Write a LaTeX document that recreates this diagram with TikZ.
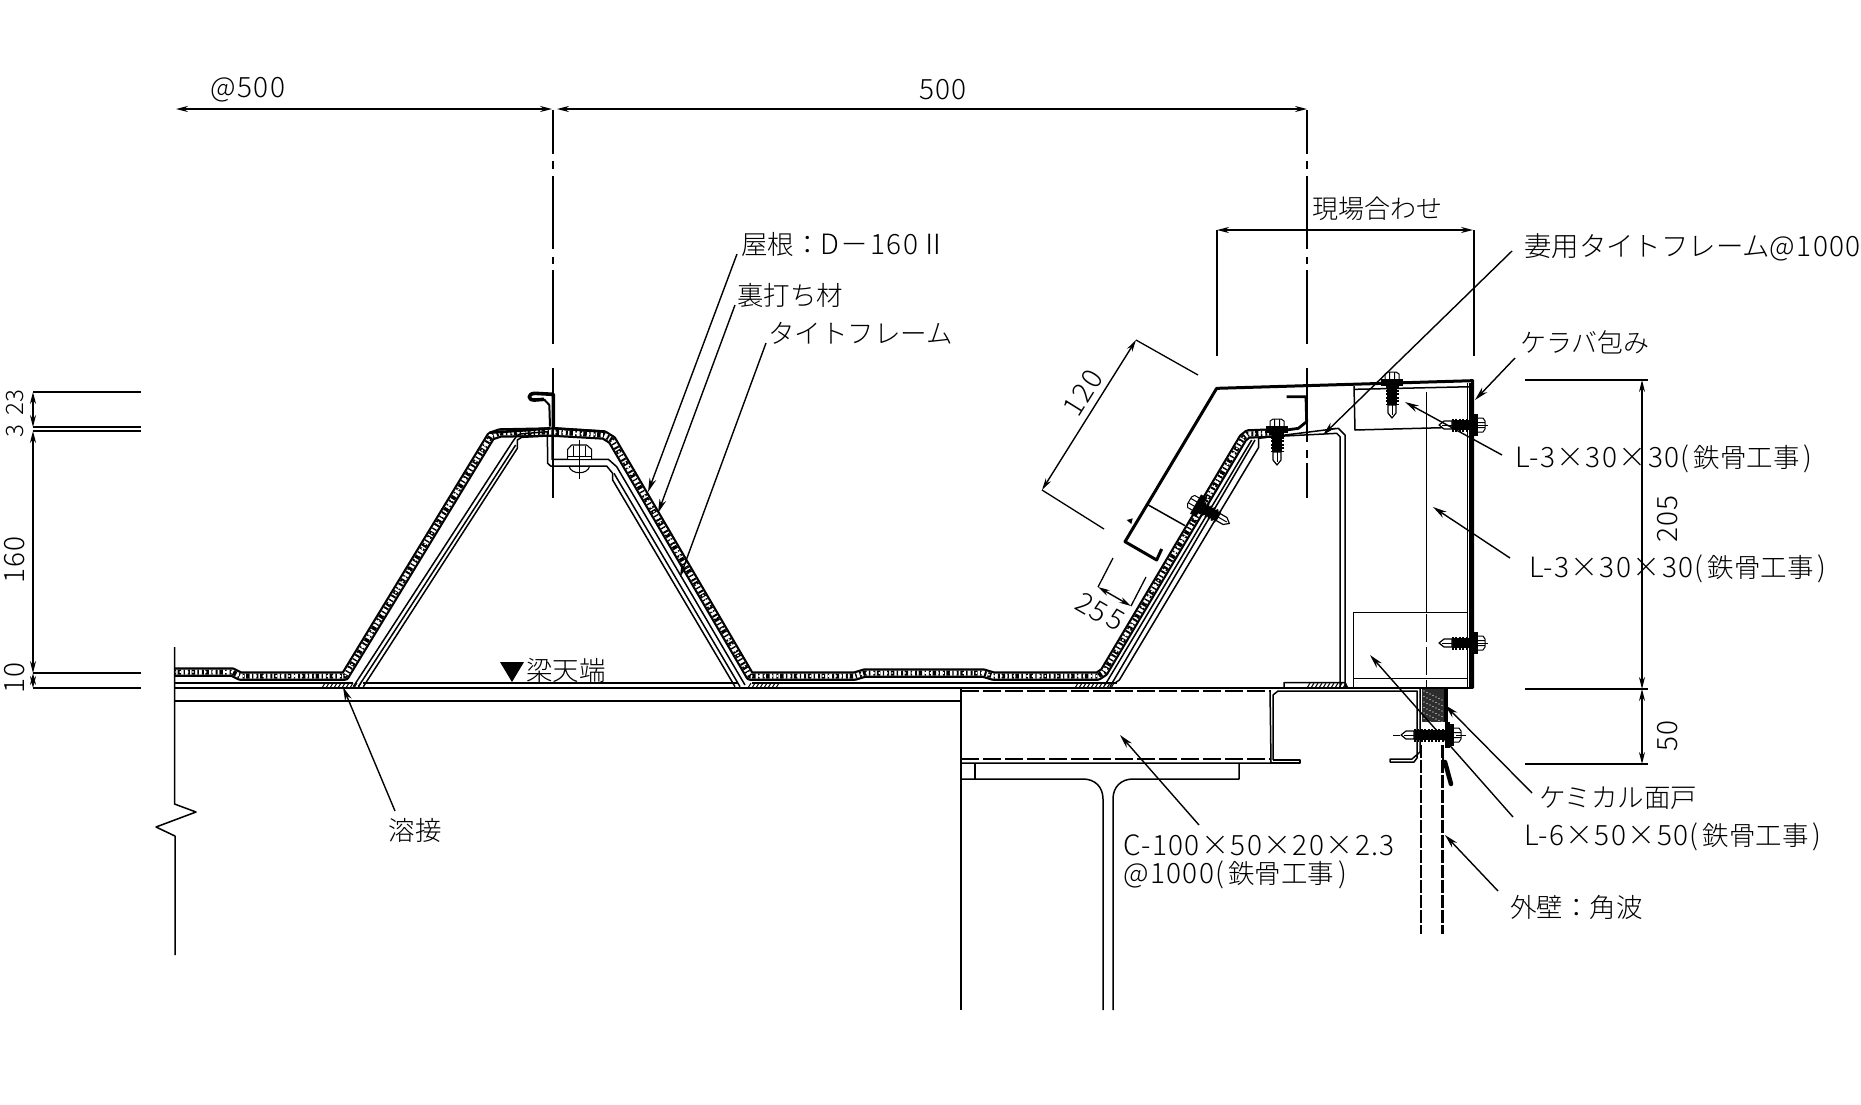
\documentclass[tikz,border=0pt]{standalone}
\usepackage{fontspec}
\setmainfont{Noto Sans CJK JP Light}
\newfontfamily\latf{Noto Sans CJK JP Light}[LetterSpace=5]
\newcommand{\lt}[1]{{\latf\fontsize{28}{30}\selectfont #1}}
\newcommand{\steelwork}{\lt{(}\kern4pt 鉄骨工事\kern4pt\lt{)}}
\usetikzlibrary{arrows.meta}
\tikzset{
  z1/.style={shift={(320,360)},x=0.33333pt,y=-0.33333pt},
  z2/.style={shift={(1060,360)},x=0.33333pt,y=-0.33333pt},
  thinl/.style={line width=1.3pt},
  med/.style={line width=1.5pt},
  heavy/.style={line width=3pt},
  dim/.style={line width=1.4pt,{Stealth[length=12pt,width=6pt]}-{Stealth[length=12pt,width=6pt]}},
  lead/.style={line width=1.4pt,-{Stealth[length=14pt,width=7pt]}},
  lbl/.style={inner sep=0pt,anchor=west,font=\fontsize{26.5}{30}\selectfont},
  num/.style={inner sep=0pt,font=\latf\fontsize{28}{30}\selectfont},
}
\newcommand{\screwat}[4]{\begin{scope}[shift={(#1,#2)},rotate=#3]
  \fill[white] (-7,-11) rectangle (7,-3);
  \draw[line width=1pt] (-7,-3)--(-7,-9)--(-4,-11)--(4,-11)--(7,-9)--(7,-3) (-2.5,-11)--(-2.5,-3) (2.5,-11)--(2.5,-3);
  \fill (-11,-4) rectangle (11,3);
  \fill (-5,3) rectangle (5,#4);
  \draw[line width=13pt,dash pattern=on 2pt off 1.5pt] (0,3)--(0,#4);
  \filldraw[fill=white,line width=1.2pt] (-4,#4)--(-4,#4+8)--(0,#4+13)--(4,#4+8)--(4,#4)--cycle;
  \draw[line width=1pt] (0,#4)--(0,#4+10);
\end{scope}}
\newcommand{\bandpath}{(174,672)--(232,672)--(240,676)--(345,676)--(491,436)--(500,433)--(551,432)--(604,435)--(612,440)--(750,676)--(855,676)--(865,673)--(983,673)--(993,676)--(1098,676)--(1104,672)--(1243,438)--(1248,434)--(1272,433)}
\begin{document}
\begin{tikzpicture}[x=1pt,y=-1pt,line join=round]
\useasboundingbox (0,0) rectangle (1861,1104);
\fill[white] (0,0) rectangle (1861,1104);
% insulation band
\draw[line width=9.5pt] \bandpath;
\draw[line width=5pt,white] \bandpath;
\draw[line width=5pt,dash pattern=on 2pt off 1.6pt on 3.5pt off 2.4pt on 1.4pt off 3pt] \bandpath;
\draw[line width=1.6pt,white,dash pattern=on 1.6pt off 4pt on 1.2pt off 6pt] \bandpath;
% beam and base
\coordinate (bL) at (174,688);
\draw[line width=2pt] (bL)--(1473,688);
\draw[med] (174,701)--(961,701);
\draw[med] (174,683)--(353,683) (363,683)--(738,683) (752,683)--(1117,683);
\draw[med] (174.5,647)--(174.5,804)--(196,812)--(156,827)--(175,836)--(175,955);
% welds
\foreach \x in {322,326,...,358} \draw[line width=1pt] (\x,688)--(\x+3,683);
\foreach \x in {748,752,...,776} \draw[line width=1pt] (\x,688)--(\x+3,683);
\foreach \x in {1075,1079,...,1111} \draw[line width=1pt] (\x,688)--(\x+3,683);
\foreach \x in {1307,1311,...,1343} \draw[line width=1pt] (\x,688)--(\x+3,683);
% left rib frame
\begin{scope}[z1]
\draw[med] (100,980)--(578,245)--(590,228)--(600,222)--(682,215)--(683,310)--(692,318)--(860,318)--(878,340)--(878,360)--(1245,980);
\draw[med] (115,980)--(587,255);
\draw[med] (130,980)--(592,265)--(592,240)--(605,232)--(682,228);
\draw[med] (696,210)--(696,298)--(865,298)--(890,320)--(1275,975);
\draw[med] (882,340)--(1260,980);
% seam
\draw[line width=3.6pt] (700,205)--(700,103)--(645,100) .. controls (622,100) and (622,122) .. (645,120)--(672,118);
\draw[line width=2pt] (672,118)--(688,135)--(690,200);
\draw[line width=2.6pt] (510,218)--(600,212)--(690,205) (705,205)--(855,215);
% bolt
\fill[white] (742,262) rectangle (815,298);
\draw[line width=1.1pt] (743,298)--(743,268)--(755,255)--(800,255)--(815,268)--(815,298);
\draw[line width=1.1pt] (743,290)--(815,290) (760,258)--(760,290) (797,258)--(797,290);
\draw[line width=1.1pt] (747,318) .. controls (752,345) and (804,345) .. (809,318);
\draw[line width=1.1pt] (778,240)--(778,358);
\end{scope}
% right rib frame
\begin{scope}[z2]
\draw[med] (135,975)--(575,240);
\draw[med] (150,980)--(585,240);
\draw[med] (0,969)--(165,969)--(178,960)--(596,262)--(596,235)--(835,205)--(855,225)--(855,985);
\draw[med] (596,232)--(830,220)--(840,230)--(840,985);
% seam and hook
\draw[line width=2.8pt] (680,110)--(738,110)--(740,185)--(715,205)--(665,212);
% cover
\draw[heavy] (1238,985)--(1238,62)--(470,85)--(195,545)--(290,600)--(305,567);
\draw[med] (265,435)--(375,497);
\fill (200,480)--(218,475)--(214,492)--cycle;
\draw[med] (880,985)--(1238,985);
\draw[med] (1222,68)--(1222,985) (1230,68)--(1230,985);
\draw[med] (882,88)--(1238,80);
\draw[med] (882,78)--(885,210)--(1150,203);
\draw[med] (880,757)--(1222,757) (880,757)--(880,985) (882,955)--(1222,955);
\draw[med] (672,985)--(672,968)--(855,968)--(862,982);
% vertical centre of the wall
\draw[line width=1.4pt] (1100,95)--(1100,755);
\draw[line width=1.4pt,dash pattern=on 28pt off 5pt] (1100,762)--(1100,985);
\end{scope}
% C channel
\draw[med] (961,688)--(961,1010);
\draw[med,dash pattern=on 18pt off 4pt] (961,691)--(1270,691) (961,759)--(1270,759);
\draw[med] (961,763)--(1271,763)--(1270,690);
\draw[med] (1273,760)--(1273,695)--(1278,691)--(1417,691)--(1417,758)--(1414,762)--(1390,762)--(1390,759)--(1412,759)--(1420,752)--(1420,689);
\draw[med] (1273,760)--(1300,760)--(1300,763)--(1271,763);
% plate and I-beam
\draw[med] (975,763)--(975,780);
\draw[med] (961,779)--(1083,779) .. controls (1095,779) and (1103,787) .. (1103,799) --(1103,1010);
\draw[med] (1113,1010)--(1113,799) .. controls (1113,787) and (1121,779) .. (1133,779) --(1239,779)--(1239,763);
% sealing block
\fill[black!82] (1422,689) rectangle (1445,722);
\foreach \i in {0,...,7} \foreach \j in {0,...,5}
  \fill[white] (1424+\i*3,691+\j*5.5+.5*\i*3) circle (.7);
% wall
\draw[line width=2.2pt,dash pattern=on 13pt off 2pt] (1421,745)--(1421,934) (1442.5,745)--(1442.5,934);
\draw[line width=3.5pt] (1446,689)--(1446,722);
\draw[line width=5pt] (1447,722)--(1447,748);
\draw[line width=2.4pt] (1443,748)--(1443,765);
\draw[line width=4.5pt,line cap=round] (1445,762)--(1451,784);
% screws
\screwat{1392}{383}{0}{22}
\screwat{1277}{430}{0}{22}
\screwat{1199}{506}{60}{22}
\screwat{1474}{425}{-90}{22}
\screwat{1474}{643}{-90}{22}
\screwat{1450}{735}{-90}{36}
\draw[line width=1pt] (1488,425)--(1468,425) (1488,643)--(1468,643);
\draw[line width=1pt] (1393,735)--(1400,735) (1456,735)--(1466,735);
% center lines
\foreach \cx in {553,1307} {
  \draw[line width=1.4pt] (\cx,110)--(\cx,154) (\cx,161)--(\cx,169) (\cx,176)--(\cx,249) (\cx,257)--(\cx,264) (\cx,270)--(\cx,344);
}
\draw[line width=1.4pt] (553,368)--(553,498);
\draw[line width=1.4pt] (1307,368)--(1307,442) (1307,450)--(1307,458) (1307,463)--(1307,498);
% dimensions
\coordinate (d1) at (176,109); \coordinate (d2) at (552,109);
\coordinate (d3) at (557,109); \coordinate (d4) at (1307,109);
\draw[dim] (d1)--(d2);
\draw[dim] (d3)--(d4);
\node[num] (t500a) at (248,90) {@500};
\node[num] (t500b) at (943,90) {500};
\coordinate (g1) at (1217,230); \coordinate (g2) at (1473,230);
\draw[dim] (g1)--(g2);
\draw[thinl] (1217,230)--(1217,356) (1474,230)--(1474,356);
\node[lbl,anchor=center,font=\fontsize{26}{30}\selectfont] (tgen) at (1377,209) {現場合わせ};
% left dims
\draw[med] (33,392)--(141,392) (33,427)--(141,427) (33,431)--(141,431) (33,673)--(141,673) (33,688)--(141,688);
\coordinate (l1) at (33,392); \coordinate (l2) at (33,427); \coordinate (l3) at (33,431); \coordinate (l4) at (33,673);  \coordinate (l5) at (33,688);
\draw[dim] (l1)--(l2);
\draw[dim] (l3)--(l4);
\draw[line width=1.4pt,-{Stealth[length=12pt,width=6pt]}] (33,676)--(33,688);
\draw[line width=1.4pt,-{Stealth[length=12pt,width=6pt]}] (33,685)--(33,673);
\node[inner sep=0pt,font=\fontsize{24}{26}\selectfont,rotate=90] (t23) at (15,402.5) {23};
\node[inner sep=0pt,font=\fontsize{24}{26}\selectfont,rotate=90] (t3) at (15,431) {3};
\node[num,rotate=90] (t160) at (15,560) {160};
\node[num,rotate=90] (t10) at (15,678) {10};
% right dims
\draw[med] (1525,380)--(1648,380) (1525,689)--(1648,689) (1525,764)--(1648,764);
\coordinate (r1) at (1642,380); \coordinate (r2) at (1642,689); \coordinate (r3) at (1642,764);
\draw[dim] (r1)--(r2);
\draw[dim] (r2)--(r3);
\node[num,rotate=90] (t205) at (1668,519) {205};
\node[num,rotate=90] (t50) at (1668,736) {50};
% 120 dim
\coordinate (a1) at (1136,340); \coordinate (a2) at (1042,490);
\draw[thinl] (a1)--(1198,375) (a2)--(1104,529);
\draw[dim] (a1)--(a2);
\node[num,rotate=58] (t120) at (1083,393) {120};
% 25 5 dim
\coordinate (b1) at (1098,587); \coordinate (b2) at (1131,606);
\draw[thinl] (1113,558)--(b1) (1146,577)--(b2);
\draw[dim] (b1)--(b2);
\node[num,rotate=-30] (t25) at (1092,608) {25};
\node[num,rotate=-30] (t5) at (1116,620) {5};
% labels
\node[lbl] (n1) at (741,244) {屋根：\lt{D－160Ⅱ}};
\node[lbl] (n2) at (737,295) {裏打ち材};
\node[lbl] (n3) at (768,333) {タイトフレーム};
\node[lbl,font=\fontsize{27.4}{30}\selectfont] (n4) at (1524,247) {妻用タイトフレーム\lt{@1000}};
\node[lbl,font=\fontsize{26}{30}\selectfont] (n5) at (1520,342) {ケラバ包み};
\node[lbl] (n6) at (1515,459) {\lt{L-3×30×30}\steelwork};
\node[lbl] (n7) at (1529,569) {\lt{L-3×30×30}\steelwork};
\node[lbl] (n8) at (1539,798) {ケミカル面戸};
\node[lbl] (n9) at (1524,837) {\lt{L-6×50×50}\steelwork};
\node[lbl] (n10) at (1510,907) {外壁：角波};
\node[lbl] (n11) at (1123,845) {\lt{C-100×50×20×2.3}};
\node[lbl] (n12) at (1123,875) {\lt{@1000}\steelwork};
\node[lbl,anchor=center] (n13) at (415,830) {溶接};
\node[lbl] (n14) at (526,670) {梁天端};
\fill (500,662)--(524,662)--(512,682)--cycle;
% leaders
\coordinate (p1) at (737,254); \coordinate (q1) at (648,492);
\coordinate (p2) at (735,305); \coordinate (q2) at (658,513);
\coordinate (p3) at (766,343); \coordinate (q3) at (680,577);
\coordinate (p4) at (1512,251); \coordinate (q4) at (1323,435);
\coordinate (p5) at (1515,358); \coordinate (q5) at (1475,400);
\coordinate (p6) at (1502,455); \coordinate (q6) at (1405,402);
\coordinate (p7) at (1510,558); \coordinate (q7) at (1433,507);
\coordinate (p8) at (1532,793); \coordinate (q8) at (1445,705);
\coordinate (p9) at (1513,817); \coordinate (q9) at (1370,655);
\coordinate (p10) at (1498,891); \coordinate (q10) at (1445,835);
\coordinate (p11) at (1199,825); \coordinate (q11) at (1120,735);
\coordinate (p12) at (395,811); \coordinate (q12) at (343,687);
\foreach \i in {1,...,12} \draw[lead] (p\i)--(q\i);
\end{tikzpicture}
\end{document}
